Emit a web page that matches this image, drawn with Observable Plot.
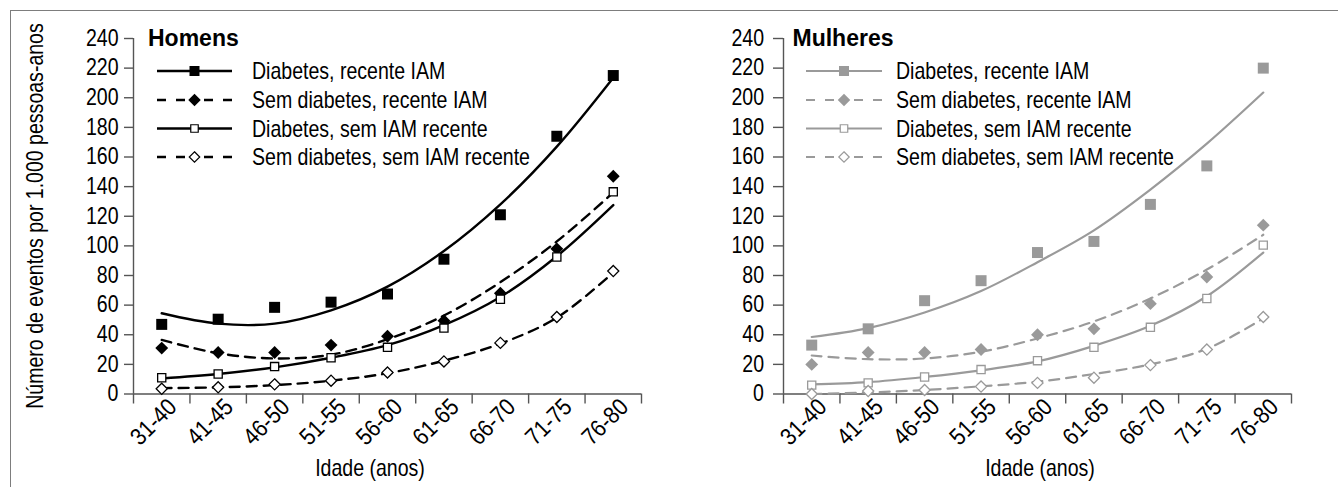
<!DOCTYPE html>
<html><head><meta charset="utf-8">
<script src="https://cdn.jsdelivr.net/npm/d3@7"></script>
<script src="https://cdn.jsdelivr.net/npm/@observablehq/plot@0.6"></script>
<style>
body{margin:0;background:#fff;}
#wrap{position:relative;width:1338px;height:487px;overflow:hidden;background:#fff;}
#frame{position:absolute;left:10px;top:10px;width:1400px;height:600px;border:1.5px solid #7d7d7d;box-sizing:border-box;}
.panel{position:absolute;top:0;}
</style></head><body><div id="wrap"><div id="frame"></div></div>
<script>
const FONT = '"Liberation Sans", Arial, sans-serif';
const SX = 0.85;   // horizontal condensation of the text (narrow typeface look)
const SX_X = 0.88; // condensation of the rotated age labels

// ---- data ----
const categories = ["31-40","41-45","46-50","51-55","56-60","61-65","66-70","71-75","76-80"];
const seriesNames = ["Diabetes, recente IAM","Sem diabetes, recente IAM","Diabetes, sem IAM recente","Sem diabetes, sem IAM recente"];
const yTicks = [0,20,40,60,80,100,120,140,160,180,200,220,240];

// Homens – observed rates
const homensDiabRecente   = [47, 50.5, 58.5, 62, 67.5, 91, 121, 174, 215];
const homensSemDiabRecente= [31, 28, 28, 33, 39, 49.5, 68, 98, 147];
const homensDiabSem       = [11, 13.5, 18.5, 24.5, 31.5, 44.5, 64, 92.5, 136.5];
const homensSemDiabSem    = [3.5, 4.5, 6.5, 9, 14.5, 22, 34.5, 52, 83];
// Homens – trend lines
const homensTrendDiabRecente    = [54.5, 47.5, 47.5, 56.5, 72.5, 96.5, 128, 167, 213.5];
const homensTrendSemDiabRecente = [36.5, 27.5, 24, 26.5, 37, 53, 75.5, 103, 136];
const homensTrendDiabSem        = [10.5, 13.5, 18, 24.5, 33, 46.5, 65.5, 93, 127.5];
const homensTrendSemDiabSem     = [4, 4.5, 6, 9, 14, 22.5, 34, 51.5, 82];

// Mulheres – observed rates
const mulheresDiabRecente   = [33, 44, 63, 76.5, 95.5, 103, 128, 154, 220];
const mulheresSemDiabRecente= [20, 28, 28, 30, 40, 44, 61, 79, 114];
const mulheresDiabSem       = [6, 7.5, 11.5, 16.5, 22.5, 31.5, 45, 64.5, 100.5];
const mulheresSemDiabSem    = [0, 2, 2.7, 5, 7.5, 11, 19.5, 30, 52];
// Mulheres – trend lines
const mulheresTrendDiabRecente    = [38.5, 44.5, 55, 69.5, 89, 110.5, 138, 169, 203.5];
const mulheresTrendSemDiabRecente = [26, 23.5, 24, 28.5, 37.5, 49, 64.5, 84, 107.5];
const mulheresTrendDiabSem        = [6.5, 8, 11.5, 16, 22, 32.5, 46, 66, 95.5];
const mulheresTrendSemDiabSem     = [0, 1, 2.7, 5.2, 8.3, 13.5, 20, 30.5, 51];

// ---- styles ----
const styles = [
  {symbol:"square",   open:false, dash:null,   r:6.2, lsym:d3.symbolSquare,   lsize:100},
  {symbol:"diamond2", open:false, dash:"10,7", r:5.8, lsym:d3.symbolDiamond2, lsize:100},
  {symbol:"square",   open:true,  dash:null,   r:4.6, lsym:d3.symbolSquare,   lsize:56},
  {symbol:"diamond2", open:true,  dash:"10,7", r:5.0, lsym:d3.symbolDiamond2, lsize:70}
];

function table(arrs){
  const out = [];
  arrs.forEach((a, s) => a.forEach((v, i) => out.push({x: i + 1, cat: categories[i], y: v, s})));
  return out;
}

// narrow the letters about each text's own anchor point
function condense(svg){
  const xLabels = new Set(svg.querySelectorAll('g[aria-label="x-axis tick label"] text'));
  svg.querySelectorAll("text").forEach(t => {
    if (t.classList.contains("nocondense")) return;
    const s = xLabels.has(t) ? SX_X : SX;
    const tr = t.getAttribute("transform") || "";
    t.setAttribute("transform", `${tr} scale(${s},1)`.trim());
  });
}

function panel(cfg){
  const pts = table(cfg.points), trs = table(cfg.trends);
  const ax = "#555";
  const boundaries = d3.range(0.5, categories.length + 1, 1);
  const marks = [
    Plot.ruleY([0], {stroke: ax, strokeWidth: 1.4}),
    Plot.ruleX([0.5], {stroke: ax, strokeWidth: 1.4}),
    Plot.axisY({ticks: yTicks, tickSize: cfg.yTickSize, tickPadding: cfg.yTickPad, stroke: ax, strokeWidth: 1.4, fill: "#000", fontSize: 23, label: null}),
    Plot.axisX({ticks: boundaries, tickSize: 10, tickFormat: () => "", stroke: ax, strokeWidth: 1.4, label: null}),
    Plot.axisX({ticks: d3.range(1, categories.length + 1), tickSize: 0, tickPadding: 9, dx: 11, tickRotate: -45,
                tickFormat: i => categories[i - 1], fill: "#000", fontSize: 24, label: null})
  ];
  styles.forEach((st, s) => {
    marks.push(Plot.line(trs.filter(d => d.s === s), {x: "x", y: "y", curve: "catmull-rom",
      stroke: cfg.color, strokeWidth: cfg.lw, strokeDasharray: st.dash || undefined}));
  });
  styles.forEach((st, s) => {
    marks.push(Plot.dot(pts.filter(d => d.s === s), {x: "x", y: "y", symbol: st.symbol, r: st.r,
      fill: st.open ? "#fff" : cfg.color, stroke: cfg.color, strokeWidth: st.open ? 1.3 : 0}));
  });
  const svg = Plot.plot({
    width: cfg.width, height: 487,
    marginLeft: cfg.marginLeft, marginRight: cfg.width - cfg.marginLeft - 508,
    marginTop: 38, marginBottom: 487 - 393.5,
    x: {type: "linear", domain: [0.5, 9.5], axis: null},
    y: {domain: [0, 240], axis: null},
    style: {fontFamily: FONT, color: "#000", background: "transparent", overflow: "visible"},
    marks
  });
  svg.classList.add("panel");
  svg.style.left = cfg.left + "px";
  const g = d3.select(svg).append("g").attr("font-family", FONT).attr("text-anchor", "start");
  // title (bold, not condensed)
  g.append("text").attr("class", "nocondense").attr("transform", `translate(${cfg.titleX},46)`).attr("font-weight", "bold")
    .attr("font-size", 23).attr("fill", "#000").text(cfg.title);
  const rowY = [71, 100, 128.5, 157];
  seriesNames.forEach((name, k) => {
    const st = styles[k], y = rowY[k];
    const cx = (cfg.lx1 + cfg.lx2) / 2;
    if (st.dash) {
      g.append("line").attr("x1", cfg.lx1).attr("x2", cx).attr("y1", y).attr("y2", y)
        .attr("stroke", cfg.color).attr("stroke-width", cfg.lw).attr("stroke-dasharray", "9,10");
      g.append("line").attr("x1", cfg.lx2).attr("x2", cx).attr("y1", y).attr("y2", y)
        .attr("stroke", cfg.color).attr("stroke-width", cfg.lw).attr("stroke-dasharray", "9,10");
    } else {
      g.append("line").attr("x1", cfg.lx1).attr("x2", cfg.lx2).attr("y1", y).attr("y2", y)
        .attr("stroke", cfg.color).attr("stroke-width", cfg.lw);
    }
    g.append("path").attr("d", d3.symbol(st.lsym, st.lsize)()).attr("transform", `translate(${cx},${y})`)
      .attr("fill", st.open ? "#fff" : cfg.color).attr("stroke", cfg.color).attr("stroke-width", st.open ? 1.2 : 0);
    g.append("text").attr("transform", `translate(${cfg.tx},${y})`).attr("dy", "0.36em").attr("font-size", 23)
      .attr("fill", "#000").text(name);
  });
  // x title
  g.append("text").attr("transform", `translate(${cfg.xTitleX},476)`).attr("text-anchor", "middle")
    .attr("font-size", 23).attr("fill", "#000").text("Idade (anos)");
  if (cfg.yTitle) {
    g.append("text").attr("transform", "translate(43,216) rotate(-90)").attr("text-anchor", "middle")
      .attr("font-size", 23).attr("fill", "#000").text(cfg.yTitle);
  }
  condense(svg);
  document.getElementById("wrap").appendChild(svg);
}

panel({title: "Homens", color: "#000", lw: 2.4, left: 0, width: 669, marginLeft: 133, yTickSize: 9, yTickPad: 6,
  points: [homensDiabRecente, homensSemDiabRecente, homensDiabSem, homensSemDiabSem],
  trends: [homensTrendDiabRecente, homensTrendSemDiabRecente, homensTrendDiabSem, homensTrendSemDiabSem],
  titleX: 148, lx1: 157, lx2: 232, tx: 252, xTitleX: 370,
  yTitle: "Número de eventos por 1.000 pessoas-anos"});
panel({title: "Mulheres", color: "#9a9a9a", lw: 2.2, left: 669, width: 669, marginLeft: 114, yTickSize: 10, yTickPad: 9.5,
  points: [mulheresDiabRecente, mulheresSemDiabRecente, mulheresDiabSem, mulheresSemDiabSem],
  trends: [mulheresTrendDiabRecente, mulheresTrendSemDiabRecente, mulheresTrendDiabSem, mulheresTrendSemDiabSem],
  titleX: 123.5, lx1: 137, lx2: 213, tx: 227, xTitleX: 371});
</script></body></html>
